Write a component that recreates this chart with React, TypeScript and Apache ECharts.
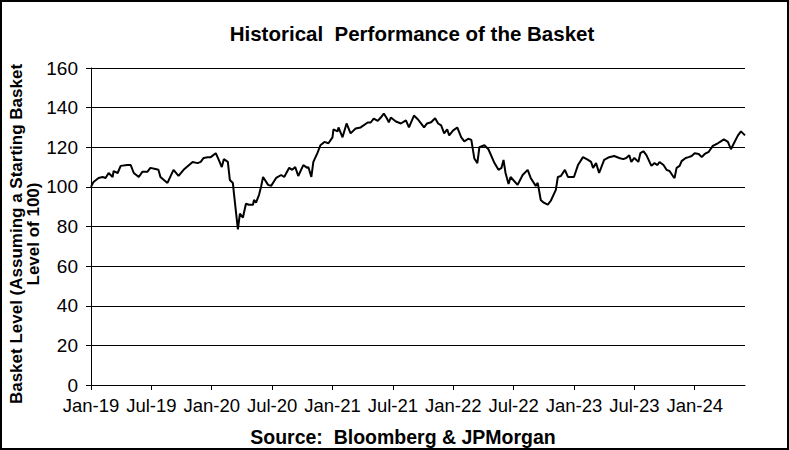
import React, { useEffect, useRef } from "react";
import * as echarts from "echarts";

// Months elapsed since Jan-2019 and basket level (start = 100)
const months: number[] = [
  0, 0.25, 0.75, 1.15, 1.45, 1.75, 2.15, 2.25, 2.65, 2.95, 3.6, 3.95, 4.25, 4.75, 5.1, 5.6, 5.9,
  6.4, 6.7, 6.9, 7.6, 8.2, 8.7, 9.2, 10.1, 10.6, 10.9, 11.2, 11.6, 11.9,
  12.4, 12.7, 13.0, 13.2, 13.6, 13.8, 14.1, 14.2, 14.6, 14.8, 15.1, 15.4, 15.7, 16.1, 16.2, 16.4, 16.7, 16.9,
  17.1, 17.6, 17.9, 18.4, 18.9, 19.2, 19.7, 20.0, 20.3, 20.6, 21.1, 21.5, 21.6, 21.9, 22.1, 22.5, 22.8, 23.2, 23.6,
  24.0, 24.1, 24.5, 24.6, 25.0, 25.4, 25.8, 26.3, 26.8, 27.5, 27.8, 28.1, 28.5, 28.8, 29.1, 29.4, 29.6, 29.8,
  30.3, 30.8, 31.3, 31.6, 32.1, 32.5, 32.8, 33.1, 33.4, 33.8, 34.2, 34.5, 34.8, 35.1, 35.4, 35.6,
  36.0, 36.4, 36.8, 37.1, 37.5, 37.8, 38.1, 38.4, 38.6, 39.1, 39.5, 40.1, 40.5, 40.8, 41.0, 41.2, 41.5, 41.7,
  42.4, 42.9, 43.4, 43.7, 44.2, 44.4, 44.7, 45.0, 45.4, 45.7, 46.2, 46.4, 46.7, 47.1, 47.4,
  48.0, 48.4, 48.9, 49.4, 49.7, 49.9, 50.2, 50.5, 51.0, 51.5, 52.0, 52.5, 52.9, 53.2, 53.5, 53.7,
  54.0, 54.4, 54.6, 54.9, 55.2, 55.7, 56.0, 56.3, 56.5, 56.9, 57.2, 57.5, 57.9, 58.0, 58.2, 58.5, 58.7, 59.1, 59.4, 59.7,
  60.0, 60.4, 60.7, 61.0, 61.4, 61.8, 62.3, 62.6, 62.9, 63.3, 63.6, 63.9, 64.3, 64.6, 65.0,
];

const basketLevel: number[] = [
  100, 102.5, 104.5, 105, 104.5, 107, 105, 108, 107, 110.6, 111, 111, 107, 105, 107.6, 107.6, 109.6,
  109, 108.6, 105, 102, 108.6, 105.5, 108.6, 112.6, 112, 112.6, 114.6, 115, 115,
  117, 113.6, 110, 114, 112.6, 103.5, 102, 97, 78.5, 86.5, 84.5, 91.5, 91, 91, 93.4, 92, 96, 100,
  105, 101, 100.5, 104.5, 106, 105, 109.6, 108.6, 110, 105.5, 111, 109.6, 110, 105, 112.6, 117, 121, 122.7, 122,
  125, 129, 128, 130, 125, 132, 127, 129.5, 130, 132.5, 132.5, 134.5, 133.3, 135, 137, 134.6, 132.6, 135,
  133, 132, 133.6, 130, 136, 134, 132, 130, 132, 132.6, 134.6, 132, 131, 127, 129, 126,
  128.5, 130, 125, 123, 124.3, 123.7, 114.3, 112, 120, 121, 119, 112, 108.6, 109.6, 113.6, 107, 101.5, 105,
  101, 106, 108.6, 104.5, 100.5, 102, 93.4, 92, 91, 93, 98.5, 105, 105.5, 108.6, 105,
  105, 111, 115, 113.6, 112.6, 109.6, 112, 107, 113.6, 115, 115.6, 114.6, 114, 114.6, 116, 112.6,
  114.6, 112.6, 117, 118, 116, 110.6, 112, 111, 112.6, 111, 108.6, 108, 105, 104.5, 109.6, 110.6, 113, 114.6, 115, 115.6,
  117, 116.6, 115, 116.6, 117.7, 120.7, 122, 123, 124, 122.7, 119, 122, 126, 128, 126,
];

const tickMonths: number[] = [0, 6, 12, 18, 24, 30, 36, 42, 48, 54, 60];
const tickLabels: string[] = [
  "Jan-19", "Jul-19", "Jan-20", "Jul-20", "Jan-21", "Jul-21",
  "Jan-22", "Jul-22", "Jan-23", "Jul-23", "Jan-24",
];

const chartTitle = "Historical  Performance of the Basket";
const yAxisTitle = "Basket Level (Assuming a Starting Basket\nLevel of 100)";
const sourceText = "Source:  Bloomberg & JPMorgan";

const FONT = "'Liberation Sans', Arial, sans-serif";

export default function App() {
  const ref = useRef<HTMLDivElement>(null);

  useEffect(() => {
    if (!ref.current) return;
    const chart = echarts.init(ref.current, undefined, { renderer: "svg" });
    const data = months.map((m, i) => [m, basketLevel[i]]);

    chart.setOption({
      animation: false,
      backgroundColor: "#ffffff",
      textStyle: { fontFamily: FONT },
      grid: { left: 91, right: 44, top: 68, bottom: 65, containLabel: false },
      xAxis: {
        type: "value",
        min: 0,
        max: 65,
        interval: 6,
        axisLine: { show: true, lineStyle: { color: "#000", width: 1 } },
        axisTick: {
          show: true,
          length: 5,
          customValues: tickMonths,
          lineStyle: { color: "#000" },
        },
        axisLabel: {
          customValues: tickMonths,
          margin: 11,
          color: "#000",
          fontSize: 18.5,
          fontFamily: FONT,
          formatter: (v: number) => {
            const idx = tickMonths.indexOf(Math.round(v));
            return idx >= 0 && Math.abs(v - tickMonths[idx]) < 1e-6 ? tickLabels[idx] : "";
          },
        },
        splitLine: { show: false },
      },
      yAxis: {
        type: "value",
        min: 0,
        max: 160,
        interval: 20,
        axisLine: { show: true, lineStyle: { color: "#000", width: 1 } },
        axisTick: { show: true, length: 5, lineStyle: { color: "#000" } },
        axisLabel: { margin: 13, color: "#000", fontSize: 19, fontFamily: FONT },
        splitLine: { show: true, lineStyle: { color: "#000", width: 1, type: "solid" } },
      },
      graphic: [
        {
          type: "rect",
          shape: { x: 1, y: 1, width: 787, height: 448 },
          style: { fill: "none", stroke: "#000", lineWidth: 2 },
          silent: true,
        },
        {
          type: "text",
          x: 412,
          y: 33,
          style: {
            text: chartTitle,
            textAlign: "center",
            textVerticalAlign: "middle",
            font: `bold 20.5px ${FONT}`,
            fill: "#000",
          },
        },
        {
          type: "text",
          x: 25,
          y: 234,
          rotation: Math.PI / 2,
          style: {
            text: yAxisTitle,
            textAlign: "center",
            textVerticalAlign: "middle",
            font: `bold 17px ${FONT}`,
            lineHeight: 17,
            fill: "#000",
          },
        },
        {
          type: "text",
          x: 403,
          y: 437,
          style: {
            text: sourceText,
            textAlign: "center",
            textVerticalAlign: "middle",
            font: `bold 19.5px ${FONT}`,
            fill: "#000",
          },
        },
      ],
      series: [
        {
          type: "line",
          data,
          showSymbol: false,
          symbol: "none",
          lineStyle: { color: "#000", width: 2 },
          z: 5,
        },
      ],
    });

    return () => chart.dispose();
  }, []);

  return (
    <div
      ref={ref}
      style={{ position: "fixed", left: 0, top: 0, width: 789, height: 450 }}
    />
  );
}
